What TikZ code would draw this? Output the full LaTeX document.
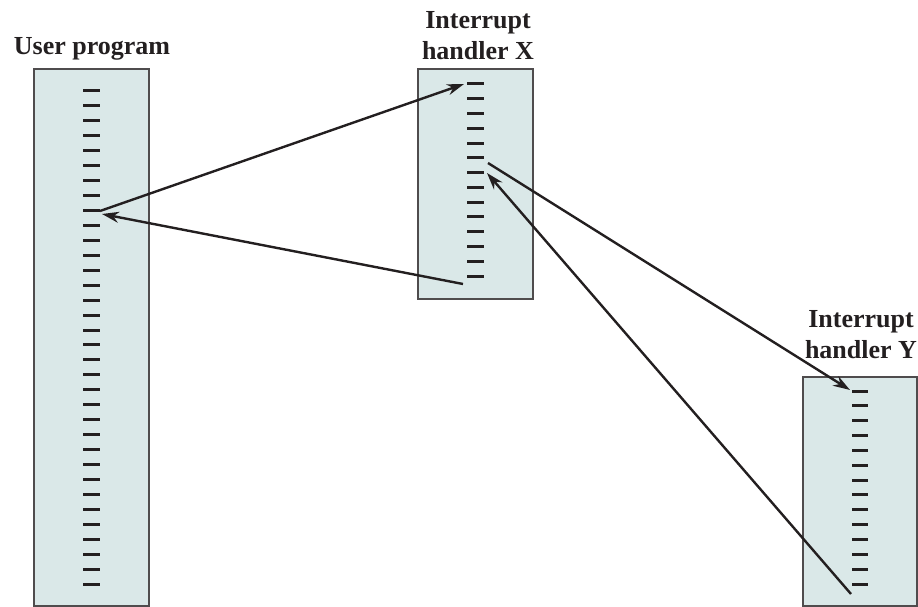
\documentclass[tikz,border=0pt]{standalone}
\usepackage{fontspec}
\setmainfont{Liberation Serif}
\usetikzlibrary{arrows.meta}
\definecolor{boxfill}{HTML}{DAE8E8}
\definecolor{ink}{HTML}{231F20}
\begin{document}
\begin{tikzpicture}[x=1pt,y=-1pt,
  prog/.style={draw=ink!80, line width=1.3pt, fill=boxfill, inner sep=0pt, outer sep=0pt, anchor=north west},
  tick/.style={line width=3pt, draw=ink},
  flow/.style={line width=2.4pt, draw=ink, -{Stealth[length=17pt,width=11pt]}},
  lbl/.style={font=\bfseries\fontsize{26}{31}\selectfont, align=center, text=ink, inner sep=0pt, anchor=base}]
\useasboundingbox (0,0) rectangle (918,607);
% boxes
\node[prog, minimum width=115pt, minimum height=537pt] (user) at (34,69) {};
\node[prog, minimum width=115pt, minimum height=230pt] (hx) at (418,69) {};
\node[prog, minimum width=114pt, minimum height=229pt] (hy) at (803,377) {};
% labels
\node[lbl] (luser) at (92,55) {User program};
\node[lbl] (lx) at (478,60) {Interrupt\\handler X};
\node[lbl] (ly) at (861,358) {Interrupt\\handler Y};
% instruction ticks
\foreach \i in {0,...,33} \draw[tick] (83,91+\i*14.94) -- (100,91+\i*14.94);
\foreach \i in {0,...,13} \draw[tick] (467,84+\i*14.77) -- (484,84+\i*14.77);
\foreach \i in {0,...,13} \draw[tick] (852,391+\i*14.85) -- (868,391+\i*14.85);
% connector end points
\coordinate (uout) at (100,211);
\coordinate (uin) at (102,214);
\coordinate (xin) at (464,84);
\coordinate (xret) at (463,284);
\coordinate (xout) at (488,163);
\coordinate (xback) at (487,173);
\coordinate (yin) at (850,390);
\coordinate (yret) at (851,594);
% connectors
\draw[flow] (uout) -- (xin);
\draw[flow] (xret) -- (uin);
\draw[flow] (xout) -- (yin);
\draw[flow] (yret) -- (xback);
\end{tikzpicture}
\end{document}
